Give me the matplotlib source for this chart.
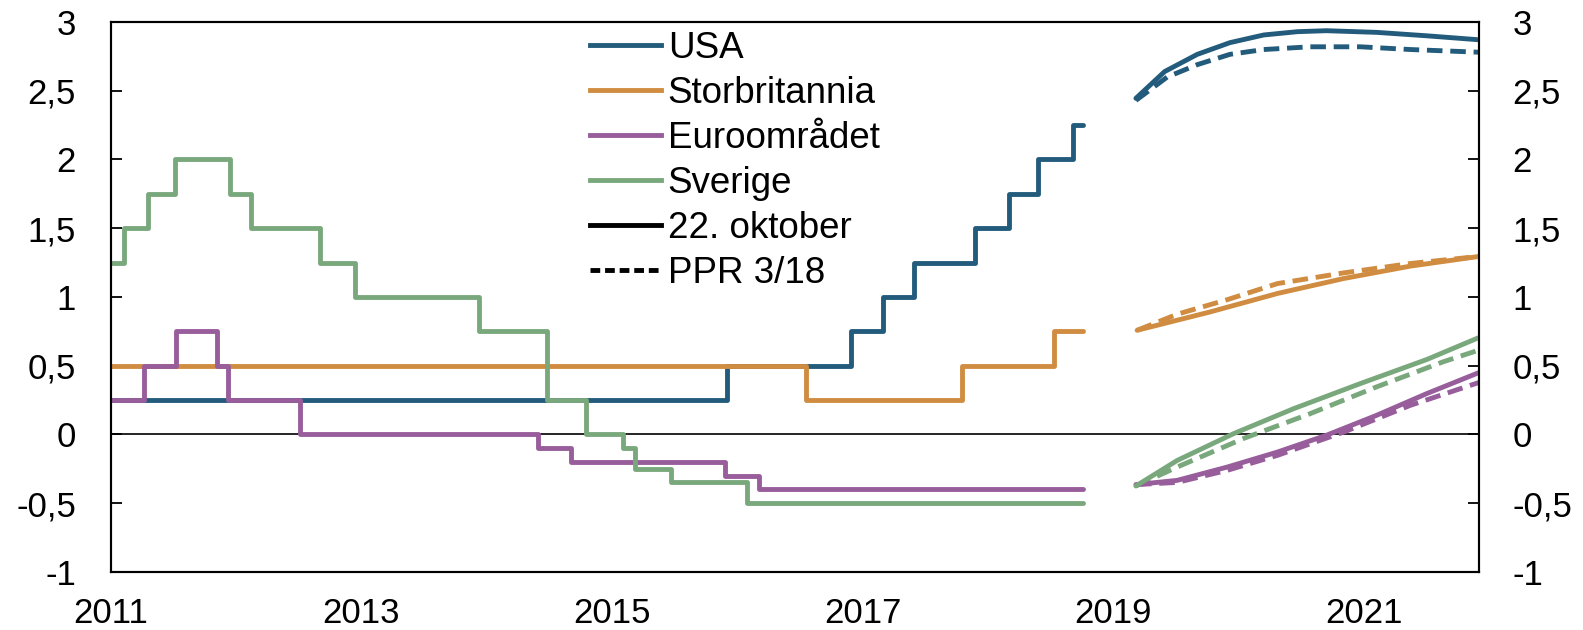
import matplotlib
matplotlib.use("Agg")
import matplotlib.pyplot as plt
from matplotlib.lines import Line2D
from matplotlib.ticker import FuncFormatter

plt.rcParams['font.family'] = ['Liberation Sans', 'DejaVu Sans']

# styringsrenter, historikk (datoer for endringer, desimalår)
usa_dates = [2011.0, 2015.92, 2016.91, 2017.16, 2017.41, 2017.90, 2018.17, 2018.40, 2018.68]
usa_rates = [0.25, 0.5, 0.75, 1.0, 1.25, 1.5, 1.75, 2.0, 2.25]
uk_dates = [2011.0, 2016.55, 2017.79, 2018.53]
uk_rates = [0.5, 0.25, 0.5, 0.75]
euro_dates = [2011.0, 2011.27, 2011.52, 2011.85, 2011.94, 2012.51, 2014.41, 2014.67, 2015.90, 2016.17]
euro_rates = [0.25, 0.5, 0.75, 0.5, 0.25, 0.0, -0.1, -0.2, -0.3, -0.4]
swe_dates = [2011.0, 2011.11, 2011.30, 2011.51, 2011.95, 2012.12, 2012.67, 2012.95,
             2013.94, 2014.48, 2014.79, 2015.09, 2015.18, 2015.47, 2016.08]
swe_rates = [1.25, 1.5, 1.75, 2.0, 1.75, 1.5, 1.25, 1.0, 0.75, 0.25, 0.0, -0.1, -0.25, -0.35, -0.5]
hist_end = 2018.76

# terminrenter 22. oktober
usa_now_x = [2019.18, 2019.41, 2019.67, 2019.93, 2020.20, 2020.47, 2020.70, 2021.10, 2021.50, 2021.93]
usa_now = [2.445, 2.64, 2.765, 2.85, 2.906, 2.93, 2.937, 2.925, 2.90, 2.87]
uk_now_x = [2019.19, 2019.77, 2020.31, 2020.84, 2021.37, 2021.93]
uk_now = [0.757, 0.89, 1.025, 1.134, 1.224, 1.296]
euro_now_x = [2019.18, 2019.51, 2019.91, 2020.31, 2020.70, 2021.10, 2021.50, 2021.93]
euro_now = [-0.366, -0.335, -0.238, -0.129, -0.007, 0.138, 0.296, 0.454]
swe_now_x = [2019.18, 2019.51, 2019.96, 2020.44, 2020.97, 2021.50, 2021.93]
swe_now = [-0.376, -0.19, 0.005, 0.187, 0.369, 0.544, 0.709]

# terminrenter PPR 3/18
usa_ppr_x = [2019.18, 2019.43, 2019.67, 2019.93, 2020.20, 2020.57, 2020.97, 2021.37, 2021.93]
usa_ppr = [2.43, 2.60, 2.69, 2.765, 2.80, 2.82, 2.82, 2.80, 2.78]
uk_ppr_x = [2019.19, 2019.51, 2019.91, 2020.31, 2020.84, 2021.37, 2021.93]
uk_ppr = [0.757, 0.874, 0.98, 1.097, 1.175, 1.243, 1.296]
euro_ppr_x = [2019.18, 2019.51, 2019.91, 2020.31, 2020.84, 2021.37, 2021.93]
euro_ppr = [-0.366, -0.35, -0.262, -0.153, 0.017, 0.211, 0.381]
swe_ppr_x = [2019.18, 2019.51, 2020.04, 2020.57, 2021.10, 2021.63, 2021.93]
swe_ppr = [-0.376, -0.238, -0.03, 0.15, 0.345, 0.527, 0.617]

names = ['USA', 'Storbritannia', 'Euroområdet', 'Sverige']
colors = ['#235b7c', '#d08c40', '#985d9b', '#7aa87d']

hist = [(usa_dates, usa_rates), (uk_dates, uk_rates), (euro_dates, euro_rates), (swe_dates, swe_rates)]
now = [(usa_now_x, usa_now), (uk_now_x, uk_now), (euro_now_x, euro_now), (swe_now_x, swe_now)]
ppr = [(usa_ppr_x, usa_ppr), (uk_ppr_x, uk_ppr), (euro_ppr_x, euro_ppr), (swe_ppr_x, swe_ppr)]

fig = plt.figure(figsize=(15.83, 6.3), dpi=100)
ax = fig.add_axes([0.0699, 0.0925, 0.8646, 0.8725])

ax.axhline(0, color='black', lw=1.2, zorder=1)

lw = 3.5
for (d, r), (nx, ny), (px, py), c in zip(hist, now, ppr, colors):
    ax.step(d + [hist_end], r + [r[-1]], where='post', color=c, lw=lw,
            solid_capstyle='round', solid_joinstyle='round', zorder=2)
    ax.plot(px, py, color=c, lw=lw, dashes=(3.2, 1.6), zorder=2)
    ax.plot(nx, ny, color=c, lw=lw, solid_capstyle='round', zorder=3)

ax.set_xlim(2011, 2021.92)
ax.set_ylim(-1, 3)
ax.set_xticks([2011, 2013, 2015, 2017, 2019, 2021])
ax.set_xticklabels(['2011', '2013', '2015', '2017', '2019', '2021'])
yt = [-1, -0.5, 0, 0.5, 1, 1.5, 2, 2.5, 3]
fmt = FuncFormatter(lambda v, p: ('%g' % v).replace('.', ','))
ax.set_yticks(yt)
ax.yaxis.set_major_formatter(fmt)
ax.tick_params(axis='x', length=0, pad=18, labelsize=25)
ax.tick_params(axis='y', direction='in', length=8, width=1.3, pad=25, labelsize=25)

ax2 = ax.twinx()
ax2.set_ylim(-1, 3)
ax2.set_yticks(yt)
ax2.yaxis.set_major_formatter(fmt)
ax2.tick_params(axis='y', direction='in', length=8, width=1.3, pad=24, labelsize=25)

for a in (ax, ax2):
    for s in a.spines.values():
        s.set_linewidth(1.5)

handles = [Line2D([], [], color=c, lw=lw) for c in colors]
handles += [Line2D([], [], color='black', lw=lw),
            Line2D([], [], color='black', lw=lw, dashes=(2.0, 1.0))]
labels = names + ['22. oktober', 'PPR 3/18']
ax.legend(handles, labels, loc='upper left', bbox_to_anchor=(0.35, 0.984),
          frameon=False, fontsize=26.5, handlelength=1.93, handletextpad=0.19,
          labelspacing=0.27, borderpad=0, borderaxespad=0)

fig.savefig('out.png', dpi=100)
